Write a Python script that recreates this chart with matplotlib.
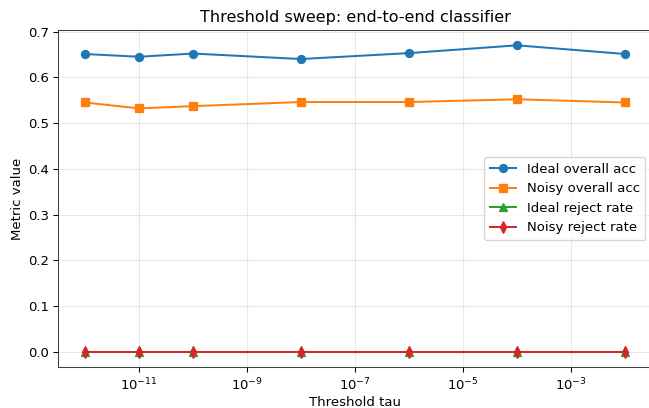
import numpy as np
import matplotlib
matplotlib.use("Agg")
import matplotlib.pyplot as plt

# threshold values (log scale)
tau = [1e-12, 1e-11, 1e-10, 1e-8, 1e-6, 1e-4, 1e-2]

ideal_acc = [0.651, 0.645, 0.652, 0.640, 0.653, 0.670, 0.651]
noisy_acc = [0.545, 0.532, 0.537, 0.546, 0.546, 0.552, 0.545]
ideal_reject = [0.0, 0.0, 0.0, 0.0, 0.0, 0.0, 0.0]
noisy_reject = [0.0, 0.0, 0.0, 0.0, 0.0, 0.0, 0.0]

# original was rendered a bit larger and scaled down to 649x408
dpi = 95.7
fig = plt.figure(figsize=(649 / dpi, 408 / dpi), dpi=dpi)
ax = fig.add_axes([58 / 649, (408 - 367) / 408, (652 - 58) / 649, (367 - 30) / 408])

ax.plot(tau, ideal_acc, marker='o', label='Ideal overall acc')
ax.plot(tau, noisy_acc, marker='s', label='Noisy overall acc')
ax.plot(tau, ideal_reject, marker='^', label='Ideal reject rate')
ax.plot(tau, noisy_reject, marker='d', label='Noisy reject rate')

ax.set_xscale('log')
ax.set_xlabel('Threshold tau', labelpad=2)
ax.set_ylabel('Metric value', labelpad=3)
ax.set_title('Threshold sweep: end-to-end classifier')
ax.grid(True, alpha=0.3)
ax.legend(loc='center right')

for s in ax.spines.values():
    s.set_color('0.25')

plt.savefig('out.png', dpi=dpi)
